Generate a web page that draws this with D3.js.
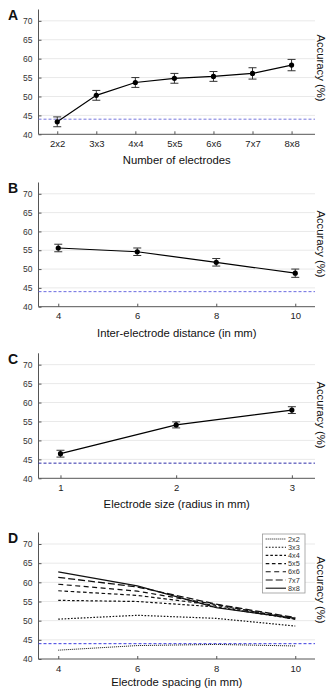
<!DOCTYPE html>
<html>
<head>
<meta charset="utf-8">
<script src="https://cdn.jsdelivr.net/npm/d3@7"></script>
<style>
  html, body { margin: 0; padding: 0; background: #fff; }
  svg { display: block; font-family: "Liberation Sans", Arial, sans-serif; }
</style>
</head>
<body>
<svg id="fig" width="329" height="689"></svg>
<script>
// ---- data ----
const chance = 44;
const yTicks = [40, 45, 50, 55, 60, 65, 70];

// A: number of electrodes
const gridSizes = ["2x2", "3x3", "4x4", "5x5", "6x6", "7x7", "8x8"];
const accBySize = [43.3, 50.3, 53.7, 54.8, 55.3, 56.1, 58.3];
const errBySize = [1.3, 1.3, 1.3, 1.3, 1.3, 1.5, 1.5];

// B: inter-electrode distance (mm)
const distances = [4, 6, 8, 10];
const accByDist = [55.6, 54.6, 51.8, 48.9];
const errByDist = [1.0, 1.0, 1.0, 1.1];

// C: electrode radius (mm)
const radii = [1, 2, 3];
const accByRadius = [46.5, 54.1, 58.0];
const errByRadius = [0.9, 0.8, 0.9];

// D: spacing (mm) per grid size
const spacings = [4, 6, 8, 10];
const acc2x2 = [42.3, 43.5, 43.8, 43.4];
const acc3x3 = [50.4, 51.4, 50.6, 48.6];
const acc4x4 = [55.3, 55.0, 53.6, 50.4];
const acc5x5 = [57.8, 56.6, 54.0, 50.6];
const acc6x6 = [59.5, 57.7, 54.2, 50.3];
const acc7x7 = [61.3, 58.8, 54.3, 50.8];
const acc8x8 = [62.7, 59.1, 53.4, 50.6];

const svg = d3.select("#fig");
const X0 = 38.5, X1 = 315;
const tickLen = 3;
const axisColor = "#555";
const intFmt = d3.format("d");

function panel(opts) {
  const g = svg.append("g");
  const y = d3.scaleLinear().domain([40, 73]).range([opts.yBottom, opts.yTop]);
  const x = opts.x;

  // horizontal grid
  g.selectAll(".grid").data(yTicks.slice(1)).join("line")
    .attr("x1", X0).attr("x2", X1)
    .attr("y1", d => y(d)).attr("y2", d => y(d))
    .attr("stroke", "#e9e9e9").attr("stroke-width", 1);

  // y axis
  const ya = g.append("g").attr("transform", `translate(${X0},0)`)
    .call(d3.axisLeft(y).tickValues(yTicks).tickFormat(intFmt)
      .tickSize(-tickLen).tickPadding(6).tickSizeOuter(0));
  ya.select(".domain").remove();
  ya.selectAll("line").attr("stroke", axisColor);
  ya.selectAll("text").attr("font-size", 8.5).attr("fill", "#333")
    .attr("font-family", "Liberation Sans, Arial, sans-serif");
  g.append("line").attr("x1", X0).attr("x2", X0)
    .attr("y1", opts.yTop).attr("y2", opts.yBottom)
    .attr("stroke", axisColor).attr("stroke-width", 1);

  // x axis
  const xa = g.append("g").attr("transform", `translate(0,${opts.yBottom})`)
    .call(d3.axisBottom(x).tickValues(opts.xTicks).tickFormat(opts.xFormat || intFmt)
      .tickSize(-tickLen).tickPadding(6).tickSizeOuter(0));
  xa.select(".domain").remove();
  xa.selectAll("line").attr("stroke", axisColor);
  xa.selectAll("text").attr("font-size", 9.5).attr("fill", "#222")
    .attr("font-family", "Liberation Sans, Arial, sans-serif");
  g.append("line").attr("x1", X0).attr("x2", X1)
    .attr("y1", opts.yBottom).attr("y2", opts.yBottom)
    .attr("stroke", axisColor).attr("stroke-width", 1);

  // chance level
  g.append("line").attr("x1", X0).attr("x2", X1)
    .attr("y1", y(chance)).attr("y2", y(chance))
    .attr("stroke", opts.chanceColor).attr("stroke-width", 1)
    .attr("stroke-dasharray", "3,2");

  // titles
  g.append("text").attr("x", (X0 + X1) / 2).attr("y", opts.titleY)
    .attr("text-anchor", "middle").attr("font-size", 11.3).attr("fill", "#111")
    .text(opts.title);
  g.append("text")
    .attr("transform", `translate(317,${opts.accY}) rotate(90)`)
    .attr("text-anchor", "middle").attr("font-size", 11.3).attr("fill", "#111")
    .text("Accuracy (%)");
  g.append("text").attr("x", 8).attr("y", opts.letterY)
    .attr("font-size", 14).attr("font-weight", "bold").attr("fill", "#111")
    .text(opts.letter);

  return { g, x, y };
}

function errorSeries(p, xs, vals, errs) {
  const pts = xs.map((d, i) => ({ x: d, v: vals[i], e: errs[i] }));
  const line = d3.line().x(d => p.x(d.x)).y(d => p.y(d.v));
  p.g.append("path").datum(pts).attr("d", line)
    .attr("fill", "none").attr("stroke", "#000").attr("stroke-width", 1.2);
  const eb = p.g.selectAll(".eb").data(pts).join("g");
  eb.append("line").attr("x1", d => p.x(d.x)).attr("x2", d => p.x(d.x))
    .attr("y1", d => p.y(d.v - d.e)).attr("y2", d => p.y(d.v + d.e))
    .attr("stroke", "#333").attr("stroke-width", 1);
  [-1, 1].forEach(s => {
    eb.append("line").attr("x1", d => p.x(d.x) - 4).attr("x2", d => p.x(d.x) + 4)
      .attr("y1", d => p.y(d.v + s * d.e)).attr("y2", d => p.y(d.v + s * d.e))
      .attr("stroke", "#333").attr("stroke-width", 1);
  });
  eb.append("circle").attr("cx", d => p.x(d.x)).attr("cy", d => p.y(d.v))
    .attr("r", 2.6).attr("fill", "#000");
}

// ---- Panel A ----
const xA = d3.scaleLinear().domain([0.52, 7.6]).range([X0, X1]);
const idx = gridSizes.map((_, i) => i + 1);
const pA = panel({
  x: xA, xTicks: idx, xFormat: i => gridSizes[i - 1],
  yTop: 9.5, yBottom: 134.3, titleY: 164, accY: 68, letterY: 20, letter: "A",
  title: "Number of electrodes", chanceColor: "#7474dc"
});
errorSeries(pA, idx, accBySize, errBySize);

// ---- Panel B ----
const xB = d3.scaleLinear().domain([3.5, 10.5]).range([X0, X1]);
const pB = panel({
  x: xB, xTicks: distances, yTop: 182.5, yBottom: 306.7,
  titleY: 336.5, accY: 244, letterY: 193, letter: "B",
  title: "Inter-electrode distance (in mm)", chanceColor: "#6a6ae0"
});
errorSeries(pB, distances, accByDist, errByDist);

// ---- Panel C ----
const xC = d3.scaleLinear().domain([0.81, 3.2]).range([X0, X1]);
const pC = panel({
  x: xC, xTicks: radii, yTop: 353.3, yBottom: 478.3,
  titleY: 507.5, accY: 415, letterY: 364, letter: "C",
  title: "Electrode size (radius in mm)", chanceColor: "#2b2ba8"
});
errorSeries(pC, radii, accByRadius, errByRadius);

// ---- Panel D ----
const xD = d3.scaleLinear().domain([3.5, 10.5]).range([X0, X1]);
const pD = panel({
  x: xD, xTicks: spacings, yTop: 532.5, yBottom: 659,
  titleY: 685.5, accY: 590, letterY: 543, letter: "D",
  title: "Electrode spacing (in mm)", chanceColor: "#3c3ce0"
});

const seriesD = [
  { name: "2x2", vals: acc2x2, dash: "1,1", w: 1 },
  { name: "3x3", vals: acc3x3, dash: "1.6,1.6", w: 1.2 },
  { name: "4x4", vals: acc4x4, dash: "2.6,2", w: 1.2 },
  { name: "5x5", vals: acc5x5, dash: "3.6,2.6", w: 1.2 },
  { name: "6x6", vals: acc6x6, dash: "5,3.5", w: 1.2 },
  { name: "7x7", vals: acc7x7, dash: "7,3", w: 1.3 },
  { name: "8x8", vals: acc8x8, dash: null, w: 1.3 }
];
const lineD = d3.line().x((d, i) => xD(spacings[i])).y(d => pD.y(d));
pD.g.selectAll(".sd").data(seriesD).join("path")
  .attr("d", d => lineD(d.vals))
  .attr("fill", "none").attr("stroke", "#111")
  .attr("stroke-width", d => d.w)
  .attr("stroke-dasharray", d => d.dash);

// legend
const lg = pD.g.append("g").attr("transform", "translate(262.5,534)");
lg.append("rect").attr("width", 42.5).attr("height", 59)
  .attr("fill", "#fff").attr("stroke", "#999").attr("stroke-width", 0.8);
const li = lg.selectAll(".li").data(seriesD).join("g")
  .attr("transform", (d, i) => `translate(0,${5 + i * 8.2})`);
li.append("line").attr("x1", 3.2).attr("x2", 23.5).attr("y1", 0).attr("y2", 0)
  .attr("stroke", "#111").attr("stroke-width", d => Math.min(d.w, 1.1))
  .attr("stroke-dasharray", d => d.dash);
li.append("text").attr("x", 25.5).attr("y", 2.6)
  .attr("font-size", 7.3).attr("fill", "#333").text(d => d.name);
</script>
</body>
</html>
